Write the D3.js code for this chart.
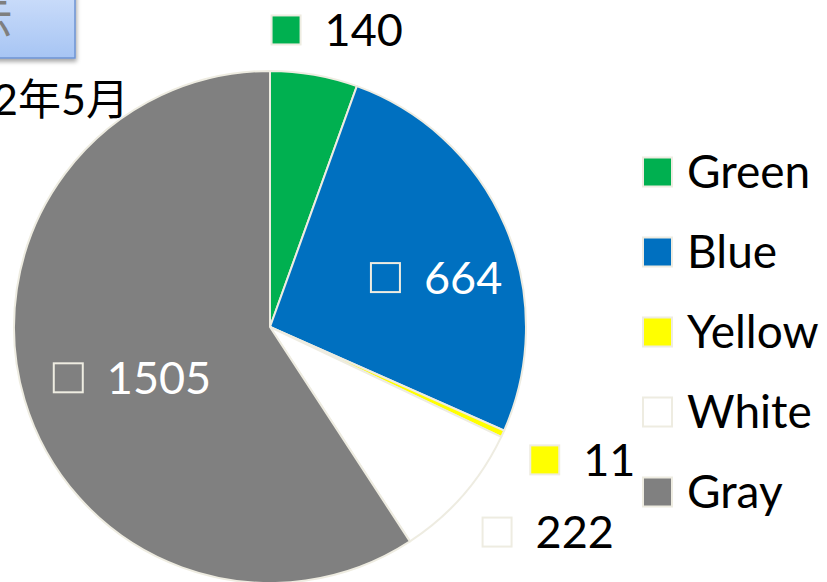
<!DOCTYPE html>
<html>
<head>
<meta charset="utf-8">
<script src="https://cdn.jsdelivr.net/npm/d3@7"></script>
<style>
  body { margin: 0; background: #fff; }
  svg { display: block; font-family: Lato, "Noto Sans CJK JP", sans-serif; }
</style>
</head>
<body>
<div id="container"></div>
<script>
/* CONSTANTS AND GLOBALS */
const width = 827,
  height = 582,
  radius = 256,
  center = {x: 270, y: 327};

/* DATA */
const categories = ["Green", "Blue", "Yellow", "White", "Gray"];
const values = [140, 664, 11, 222, 1505];
const colors = ["#00B050", "#0070C0", "#FFFF00", "#FFFFFF", "#808080"];
const titleText = "2012年5月";

// label placement: radius factor + x/y nudge from that point (left edge of key, middle)
const labelPlace = [
  {r: 1.17, dx: -50, dy: -2},
  {r: 0.62, dx: -45, dy: 13},
  {r: 1.17, dx: -12, dy: 8},
  {r: 1.17, dx: -13, dy: 8},
  {r: 0.60, dx: -69, dy: 7}
];
const labelInside = [false, true, false, false, true];

const svg = d3.select("#container")
  .append("svg")
  .attr("width", width)
  .attr("height", height);

const defs = svg.append("defs");
const grad = defs.append("linearGradient")
  .attr("id", "boxGrad")
  .attr("x1", 0).attr("y1", 0).attr("x2", 0).attr("y2", 1);
grad.append("stop").attr("offset", "0%").attr("stop-color", "#d3e2fb");
grad.append("stop").attr("offset", "100%").attr("stop-color", "#a7c5f4");

const shadow = defs.append("filter").attr("id", "shadow")
  .attr("x", "-20%").attr("y", "-20%").attr("width", "150%").attr("height", "150%");
shadow.append("feDropShadow")
  .attr("dx", 1).attr("dy", 3).attr("stdDeviation", 2)
  .attr("flood-color", "#000").attr("flood-opacity", 0.35);

// title box (cropped at the corner)
svg.append("rect")
  .attr("x", -60).attr("y", -20)
  .attr("width", 135).attr("height", 78)
  .attr("fill", "url(#boxGrad)")
  .attr("stroke", "#6c93d3")
  .attr("stroke-width", 1.5)
  .attr("filter", "url(#shadow)");

svg.append("text")
  .attr("x", 13).attr("y", 36)
  .attr("text-anchor", "end")
  .attr("font-size", 46)
  .attr("fill", "#7f7f7f")
  .text("表示");

svg.append("text")
  .attr("x", 129).attr("y", 115)
  .attr("text-anchor", "end")
  .attr("font-size", 43)
  .attr("fill", "#000")
  .text(titleText);

/* PIE */
const data = categories.map((c, i) => ({name: c, value: values[i], color: colors[i], i}));

const pie = d3.pie()
  .sort(null)
  .value(d => d.value);

const arcs = pie(data);

const arc = d3.arc()
  .innerRadius(0)
  .outerRadius(radius);

const g = svg.append("g")
  .attr("transform", `translate(${center.x},${center.y})`);

g.selectAll("path")
  .data(arcs)
  .join("path")
  .attr("d", arc)
  .attr("fill", d => d.data.color)
  .attr("stroke", "#EEECE1")
  .attr("stroke-width", 2);

// data labels
const keySize = 29;
const labels = g.selectAll("g.label")
  .data(arcs)
  .join("g")
  .attr("class", "label")
  .attr("transform", d => {
    const p = labelPlace[d.data.i];
    const la = d3.arc().innerRadius(radius * p.r).outerRadius(radius * p.r);
    const [x, y] = la.centroid(d);
    return `translate(${x + p.dx},${y + p.dy})`;
  });

labels.append("rect")
  .attr("x", 0)
  .attr("y", -keySize / 2)
  .attr("width", keySize)
  .attr("height", keySize)
  .attr("fill", d => d.data.color)
  .attr("stroke", "#EEECE1")
  .attr("stroke-width", 2);

labels.append("text")
  .attr("x", 53)
  .attr("y", 16)
  .attr("font-size", 45)
  .attr("fill", d => labelInside[d.data.i] ? "#fff" : "#000")
  .text(d => d.data.value);

/* LEGEND */
const legendY = d3.scalePoint()
  .domain(categories)
  .range([172, 492]);

const legend = svg.append("g")
  .selectAll("g")
  .data(data)
  .join("g")
  .attr("transform", d => `translate(643,${legendY(d.name)})`);

legend.append("rect")
  .attr("x", 0)
  .attr("y", -keySize / 2)
  .attr("width", keySize)
  .attr("height", keySize)
  .attr("fill", d => d.color)
  .attr("stroke", "#EEECE1")
  .attr("stroke-width", 2);

legend.append("text")
  .attr("x", 44)
  .attr("y", 16)
  .attr("font-size", 46)
  .attr("fill", "#000")
  .text(d => d.name);
</script>
</body>
</html>
